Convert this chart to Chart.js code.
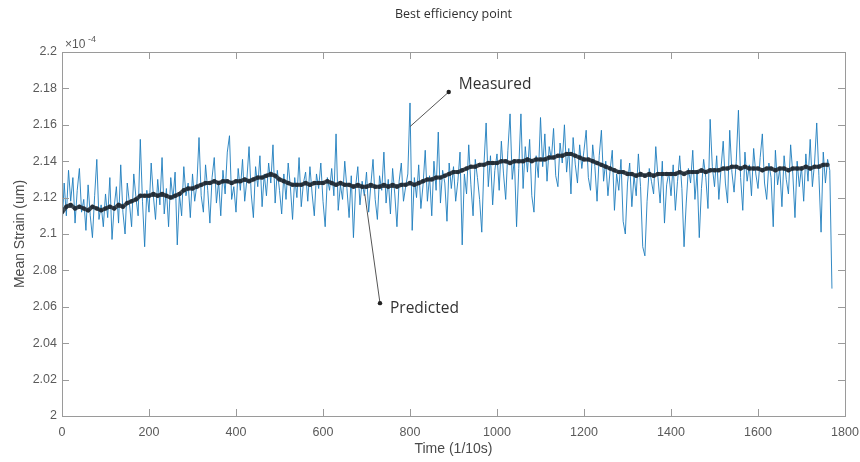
<!DOCTYPE html>
<html>
<head>
<meta charset="utf-8">
<script src="https://cdn.jsdelivr.net/npm/chart.js@4.4.1/dist/chart.umd.min.js"></script>
<style>
  body { margin: 0; background: #fff; }
</style>
</head>
<body>
<canvas id="strainChart" width="860" height="462"></canvas>
<script>
// values are Mean Strain in units of 1e-4 (as shown on the axis)
const MEAS_STEP = 5;   // time step of measured samples (1/10 s)
const PRED_STEP = 10;  // time step of predicted samples

const measured = [
  2.103, 2.128, 2.110, 2.135, 2.118, 2.131, 2.106, 2.124, 2.136, 2.112, 2.119, 2.102, 2.127, 2.110, 2.098, 2.121, 2.141, 2.108, 2.116, 2.104,
  2.122, 2.109, 2.131, 2.097, 2.115, 2.126, 2.106, 2.138, 2.112, 2.100, 2.128, 2.117, 2.104, 2.133, 2.120, 2.110, 2.152, 2.118, 2.093, 2.124,
  2.112, 2.139, 2.121, 2.108, 2.130, 2.116, 2.142, 2.111, 2.125, 2.104, 2.131, 2.119, 2.134, 2.094, 2.122, 2.110, 2.137, 2.121, 2.128, 2.109,
  2.133, 2.118, 2.127, 2.153, 2.121, 2.112, 2.138, 2.124, 2.106, 2.131, 2.142, 2.117, 2.129, 2.110, 2.135, 2.122, 2.145, 2.154, 2.119, 2.126,
  2.112, 2.136, 2.124, 2.141, 2.118, 2.130, 2.148, 2.122, 2.109, 2.137, 2.126, 2.143, 2.115, 2.133, 2.121, 2.139, 2.128, 2.149, 2.117, 2.135,
  2.124, 2.111, 2.133, 2.119, 2.139, 2.126, 2.108, 2.131, 2.120, 2.142, 2.115, 2.128, 2.134, 2.118, 2.137, 2.122, 2.110, 2.133, 2.125, 2.139,
  2.118, 2.104, 2.131, 2.124, 2.136, 2.121, 2.155, 2.113, 2.127, 2.119, 2.140, 2.125, 2.109, 2.132, 2.098, 2.126, 2.137, 2.116, 2.129, 2.121,
  2.134, 2.112, 2.127, 2.141, 2.119, 2.108, 2.132, 2.124, 2.145, 2.117, 2.130, 2.111, 2.136, 2.122, 2.104, 2.129, 2.139, 2.118, 2.126, 2.133,
  2.172, 2.102, 2.131, 2.120, 2.138, 2.114, 2.127, 2.146, 2.118, 2.132, 2.110, 2.140, 2.124, 2.156, 2.117, 2.135, 2.128, 2.107, 2.139, 2.125,
  2.137, 2.118, 2.129, 2.145, 2.094, 2.133, 2.122, 2.149, 2.127, 2.110, 2.141, 2.131, 2.119, 2.101, 2.138, 2.161, 2.126, 2.143, 2.116, 2.135,
  2.144, 2.124, 2.151, 2.133, 2.119, 2.146, 2.166, 2.130, 2.141, 2.104, 2.136, 2.166, 2.125, 2.148, 2.134, 2.152, 2.121, 2.112, 2.143, 2.131,
  2.164, 2.137, 2.155, 2.129, 2.148, 2.141, 2.158, 2.132, 2.126, 2.150, 2.139, 2.160, 2.134, 2.147, 2.122, 2.153, 2.138, 2.128, 2.149, 2.136,
  2.146, 2.157, 2.131, 2.124, 2.149, 2.137, 2.118, 2.143, 2.157, 2.129, 2.140, 2.121, 2.135, 2.146, 2.113, 2.133, 2.124, 2.141, 2.107, 2.100,
  2.128, 2.139, 2.115, 2.132, 2.121, 2.144, 2.126, 2.093, 2.088, 2.118, 2.136, 2.129, 2.122, 2.148, 2.131, 2.117, 2.140, 2.106, 2.127, 2.134,
  2.121, 2.138, 2.113, 2.129, 2.143, 2.125, 2.093, 2.117, 2.136, 2.128, 2.146, 2.119, 2.134, 2.098, 2.125, 2.141, 2.131, 2.114, 2.163, 2.137,
  2.126, 2.143, 2.119, 2.136, 2.151, 2.128, 2.117, 2.157, 2.134, 2.123, 2.140, 2.168, 2.131, 2.113, 2.145, 2.129, 2.138, 2.121, 2.147, 2.133,
  2.125, 2.142, 2.155, 2.128, 2.119, 2.139, 2.131, 2.104, 2.146, 2.127, 2.136, 2.115, 2.143, 2.130, 2.122, 2.149, 2.133, 2.109, 2.140, 2.126,
  2.137, 2.118, 2.144, 2.129, 2.152, 2.126, 2.139, 2.161, 2.132, 2.101, 2.145, 2.128, 2.141, 2.135, 2.070
];

const predicted = [
  2.112, 2.115, 2.116, 2.114, 2.115, 2.114, 2.113, 2.115, 2.114, 2.113,
  2.114, 2.115, 2.114, 2.116, 2.115, 2.117, 2.118, 2.119, 2.121, 2.121,
  2.121, 2.122, 2.121, 2.122, 2.121, 2.120, 2.121, 2.122, 2.124, 2.125,
  2.125, 2.126, 2.127, 2.128, 2.128, 2.129, 2.128, 2.129, 2.129, 2.128,
  2.129, 2.129, 2.130, 2.129, 2.130, 2.131, 2.131, 2.132, 2.133, 2.132,
  2.130, 2.129, 2.128, 2.127, 2.127, 2.127, 2.128, 2.127, 2.128, 2.128,
  2.128, 2.129, 2.128, 2.127, 2.128, 2.127, 2.127, 2.126, 2.127, 2.126,
  2.126, 2.127, 2.126, 2.126, 2.127, 2.126, 2.127, 2.126, 2.127, 2.127,
  2.128, 2.127, 2.128, 2.129, 2.130, 2.130, 2.131, 2.131, 2.132, 2.133,
  2.134, 2.134, 2.135, 2.136, 2.137, 2.137, 2.138, 2.138, 2.139, 2.139,
  2.139, 2.140, 2.140, 2.139, 2.140, 2.140, 2.140, 2.141, 2.140, 2.141,
  2.141, 2.141, 2.142, 2.142, 2.143, 2.143, 2.144, 2.144, 2.143, 2.142,
  2.141, 2.141, 2.140, 2.139, 2.138, 2.137, 2.136, 2.135, 2.134, 2.134,
  2.133, 2.133, 2.132, 2.133, 2.132, 2.133, 2.132, 2.133, 2.133, 2.133,
  2.133, 2.133, 2.134, 2.133, 2.134, 2.134, 2.134, 2.135, 2.134, 2.135,
  2.135, 2.135, 2.136, 2.136, 2.137, 2.137, 2.136, 2.137, 2.136, 2.136,
  2.136, 2.135, 2.136, 2.136, 2.135, 2.136, 2.136, 2.135, 2.136, 2.136,
  2.136, 2.137, 2.136, 2.137, 2.137, 2.138, 2.138
];

const xTicks = [0, 200, 400, 600, 800, 1000, 1200, 1400, 1600, 1800];
const yTicks = [2, 2.02, 2.04, 2.06, 2.08, 2.1, 2.12, 2.14, 2.16, 2.18, 2.2];

// annotation arrows: [label, line start t, line start v, dot t, dot v]
const notes = [
  ['Measured', 800, 2.159, 889, 2.178],
  ['Predicted', 696, 2.122, 731, 2.062]
];

const AXIS = '#9a9a9a';
const TICKTXT = '#5a5a5a';
const FONT = '"Liberation Sans", Arial, sans-serif';

const boxPlugin = {
  id: 'matlabBox',
  afterDraw(chart) {
    const c = chart.ctx;
    const a = chart.chartArea;
    const xs = chart.scales.x, ys = chart.scales.y;
    c.save();
    // box
    c.strokeStyle = AXIS;
    c.lineWidth = 1;
    c.strokeRect(a.left + 0.5, a.top + 0.5, a.right - a.left, a.bottom - a.top);
    // inward ticks
    c.beginPath();
    xTicks.forEach(t => {
      const px = Math.round(xs.getPixelForValue(t)) + 0.5;
      c.moveTo(px, a.bottom); c.lineTo(px, a.bottom - 7);
      c.moveTo(px, a.top); c.lineTo(px, a.top + 7);
    });
    yTicks.forEach(v => {
      const py = Math.round(ys.getPixelForValue(v)) + 0.5;
      c.moveTo(a.left, py); c.lineTo(a.left + 7, py);
      c.moveTo(a.right, py); c.lineTo(a.right - 7, py);
    });
    c.stroke();

    // title
    c.fillStyle = '#303030';
    c.font = '12.5px "Open Sans", sans-serif';
    c.textAlign = 'center';
    c.textBaseline = 'middle';
    c.fillText('Best efficiency point', (a.left + a.right) / 2, 14);

    // exponent
    c.fillStyle = TICKTXT;
    c.textAlign = 'left';
    c.font = '12px ' + FONT;
    c.fillText('\u00d710', a.left + 3, a.top - 7);
    c.font = '9px ' + FONT;
    c.fillText('-4', a.left + 26, a.top - 12);

    // annotations
    notes.forEach(n => {
      const x0 = xs.getPixelForValue(n[1]), y0 = ys.getPixelForValue(n[2]);
      const x1 = xs.getPixelForValue(n[3]), y1 = ys.getPixelForValue(n[4]);
      c.strokeStyle = '#555';
      c.lineWidth = 1;
      c.beginPath(); c.moveTo(x0, y0); c.lineTo(x1, y1); c.stroke();
      c.fillStyle = '#222';
      c.beginPath(); c.arc(x1, y1, 2.2, 0, Math.PI * 2); c.fill();
      c.font = '15.5px "Open Sans", sans-serif';
      c.fillStyle = '#333';
      c.textBaseline = 'middle';
      c.fillText(n[0], x1 + 10, y1 + (n[0] === 'Predicted' ? 5 : -7));
    });
    c.restore();
  }
};

new Chart(document.getElementById('strainChart').getContext('2d'), {
  type: 'line',
  data: {
    datasets: [
      {
        label: 'Measured',
        data: measured.map((v, i) => ({ x: i * MEAS_STEP, y: v })),
        borderColor: 'rgba(30,125,190,0.9)',
        borderWidth: 1,
        pointRadius: 0,
        tension: 0,
        order: 2
      },
      {
        label: 'Predicted',
        data: predicted.map((v, i) => ({ x: i * PRED_STEP, y: v })),
        borderColor: 'rgba(38,48,58,0.85)',
        backgroundColor: 'rgba(30,40,50,0.8)',
        borderWidth: 4,
        pointRadius: 2.2,
        pointBorderWidth: 0,
        tension: 0,
        order: 1
      }
    ]
  },
  options: {
    responsive: false,
    animation: false,
    layout: { padding: { top: 52, right: 15, left: 0, bottom: 0 } },
    plugins: {
      legend: { display: false },
      tooltip: { enabled: false },
      title: { display: false }
    },
    scales: {
      x: {
        type: 'linear',
        min: 0,
        max: 1800,
        afterFit(s) { s.height = 46; s.paddingLeft = 0; s.paddingRight = 0; },
        afterBuildTicks(s) { s.ticks = xTicks.map(v => ({ value: v })); },
        grid: { display: false, drawTicks: false },
        border: { display: false },
        ticks: {
          color: TICKTXT,
          padding: 9,
          maxRotation: 0,
          font: { family: FONT, size: 12.5 },
          callback: v => String(v)
        },
        title: {
          display: true,
          text: 'Time (1/10s)',
          color: '#4a4a4a',
          padding: { top: 2 },
          font: { family: FONT, size: 14 }
        }
      },
      y: {
        min: 2,
        max: 2.2,
        afterFit(s) { s.width = 62; s.paddingTop = 0; s.paddingBottom = 0; },
        afterBuildTicks(s) { s.ticks = yTicks.map(v => ({ value: v })); },
        grid: { display: false, drawTicks: false },
        border: { display: false },
        ticks: {
          color: TICKTXT,
          padding: 5,
          font: { family: FONT, size: 12.5 },
          callback: v => String(Number(v.toFixed(2)))
        },
        title: {
          display: true,
          text: 'Mean Strain (um)',
          color: '#4a4a4a',
          padding: { top: 12, bottom: 0 },
          font: { family: FONT, size: 14 }
        }
      }
    }
  },
  plugins: [boxPlugin]
});
</script>
</body>
</html>
